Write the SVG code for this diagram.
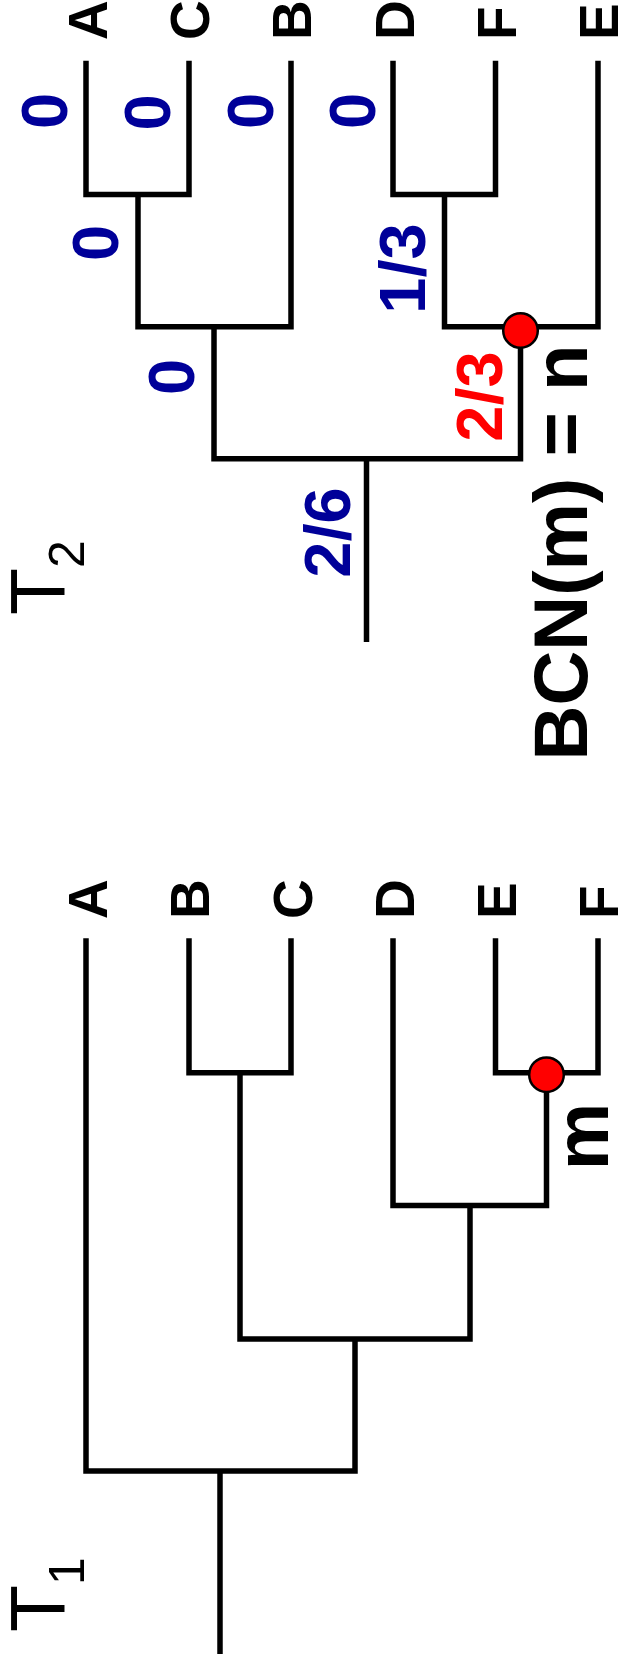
<svg xmlns="http://www.w3.org/2000/svg" width="619" height="1668" viewBox="0 0 619 1668">
  <style>
    .edge { fill: none; stroke: #000; stroke-width: 5.5; stroke-linejoin: miter; stroke-linecap: butt; }
    .node { fill: #ff0000; stroke: #000; stroke-width: 2.5; }
    .leaf { font-family: "Liberation Sans", Arial, sans-serif; font-weight: bold; font-size: 55px; fill: #000; }
    .val { font-family: "Liberation Sans", Arial, sans-serif; font-weight: bold; font-size: 65px; fill: #000099; text-anchor: middle; }
    .hit { fill: #ff0000; }
    .big { font-family: "Liberation Sans", Arial, sans-serif; font-weight: bold; font-size: 76px; fill: #000; }
    .title { font-family: "Liberation Sans", Arial, sans-serif; font-size: 77px; fill: #000; }
  </style>

  <!-- Tree T2 (top) -->
  <g id="tree-t2-edges">
    <path class="edge" d="M86 60.7 V194.5 H189 V60.7"/>
    <path class="edge" d="M138 194.5 V326.7 H291 V60.7"/>
    <path class="edge" d="M393 60.7 V194.5 H495.5 V60.7"/>
    <path class="edge" d="M444.5 194.5 V326.7 H598 V60.7"/>
    <path class="edge" d="M214 326.7 V458.7 H520.5 V330"/>
    <path class="edge" d="M366.5 458.7 V642"/>
  </g>
  <g id="t2-node-n">
    <circle class="node" cx="520.5" cy="330.5" r="17.3"/>
  </g>
  <g id="t2-leaves">
    <text class="leaf" transform="translate(106.5,40) rotate(-90)">A</text>
    <text class="leaf" transform="translate(209.3,40) rotate(-90)">C</text>
    <text class="leaf" transform="translate(311,40) rotate(-90)">B</text>
    <text class="leaf" transform="translate(413.5,40) rotate(-90)">D</text>
    <text class="leaf" transform="translate(515.8,40) rotate(-90)">F</text>
    <text class="leaf" transform="translate(617.5,40) rotate(-90)">E</text>
  </g>
  <g id="t2-values">
    <text class="val" transform="translate(66.8,111) rotate(-90)">0</text>
    <text class="val" transform="translate(169.7,112.5) rotate(-90)">0</text>
    <text class="val" transform="translate(272.5,111) rotate(-90)">0</text>
    <text class="val" transform="translate(374.5,111) rotate(-90)">0</text>
    <text class="val" transform="translate(118.2,243) rotate(-90)">0</text>
    <text class="val" transform="translate(424.8,268.5) rotate(-90)">1/3</text>
    <text class="val" transform="translate(194.2,377) rotate(-90)">0</text>
    <text class="val hit" transform="translate(502,396.5) rotate(-90)">2/3</text>
    <text class="val" transform="translate(349.7,532.5) rotate(-90)">2/6</text>
  </g>
  <g id="t2-title">
    <text class="title" transform="translate(65,615) rotate(-90)">T<tspan font-size="50" dy="19">2</tspan></text>
  </g>
  <g id="bcn-label">
    <text class="big" transform="translate(586.5,760.5) rotate(-90)">BCN(m) = n</text>
  </g>

  <!-- Tree T1 (bottom) -->
  <g id="tree-t1-edges">
    <path class="edge" d="M189 938.3 V1072.7 H291 V938.3"/>
    <path class="edge" d="M495.5 938.3 V1072.7 H598 V938.3"/>
    <path class="edge" d="M546.5 1075 V1205.5 H393 V938.3"/>
    <path class="edge" d="M240 1072.7 V1339 H470 V1205.5"/>
    <path class="edge" d="M355 1339 V1471 H86 V938.3"/>
    <path class="edge" d="M220 1471 V1654"/>
  </g>
  <g id="t1-node-m">
    <circle class="node" cx="546.5" cy="1074.7" r="17.3"/>
  </g>
  <g id="t1-leaves">
    <text class="leaf" transform="translate(106.5,919) rotate(-90)">A</text>
    <text class="leaf" transform="translate(209,919) rotate(-90)">B</text>
    <text class="leaf" transform="translate(312.3,919) rotate(-90)">C</text>
    <text class="leaf" transform="translate(413.5,919) rotate(-90)">D</text>
    <text class="leaf" transform="translate(515.8,919) rotate(-90)">E</text>
    <text class="leaf" transform="translate(617.5,919) rotate(-90)">F</text>
  </g>
  <g id="m-label">
    <text class="big" text-anchor="middle" transform="translate(607.5,1136.5) rotate(-90)">m</text>
  </g>
  <g id="t1-title">
    <text class="title" transform="translate(65,1632) rotate(-90)">T<tspan font-size="50" dy="19">1</tspan></text>
  </g>
</svg>
